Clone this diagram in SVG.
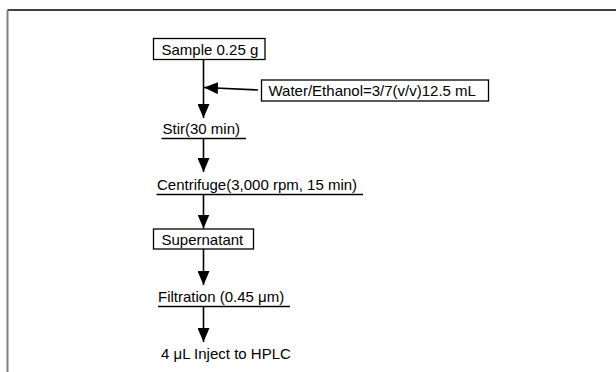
<svg xmlns="http://www.w3.org/2000/svg" width="616" height="372" viewBox="0 0 616 372">
<style>
text{font-family:"Liberation Sans",Arial,sans-serif;font-size:15px;fill:#000}
.box{fill:#fff;stroke:#000;stroke-width:1.3}
.ul{stroke:#000;stroke-width:1.3}
.ar{stroke:#000;stroke-width:1.6;fill:none;marker-end:url(#ah)}
</style>
<defs>
<marker id="ah" markerUnits="userSpaceOnUse" markerWidth="14" markerHeight="12" viewBox="0 0 14 12" refX="14" refY="6" orient="auto">
<path d="M0,0 L14,6 L0,12 Z" fill="#000"/>
</marker>
</defs>
<rect width="616" height="372" fill="#fff"/>
<g id="frame">
<line x1="7.5" y1="10" x2="616" y2="10" stroke="#000" stroke-width="1.5"/>
<line x1="7.5" y1="10" x2="7.5" y2="372" stroke="#808080" stroke-width="2"/>
</g>
<g id="connectors">
<line class="ar" x1="203.5" y1="59.5" x2="203.5" y2="118"/>
<line class="ar" x1="258" y1="90" x2="204" y2="87.5"/>
<line class="ar" x1="203.5" y1="138.5" x2="203.5" y2="172"/>
<line class="ar" x1="203.5" y1="194.5" x2="203.5" y2="228.5"/>
<line class="ar" x1="203.5" y1="249" x2="203.5" y2="285"/>
<line class="ar" x1="203.5" y1="306.5" x2="203.5" y2="342"/>
</g>
<g id="sample">
<rect class="box" x="153.5" y="38.5" width="111.5" height="21"/>
<text x="161.5" y="54.5">Sample 0.25 g</text>
</g>
<g id="solvent">
<rect class="box" x="261.5" y="80" width="227" height="21"/>
<text x="268.5" y="96">Water/Ethanol=3/7(v/v)12.5 mL</text>
</g>
<g id="stir">
<text x="162.5" y="133.5">Stir(30 min)</text>
<line class="ul" x1="161.5" y1="138.5" x2="246" y2="138.5"/>
</g>
<g id="centrifuge">
<text x="157" y="189.5">Centrifuge(3,000 rpm, 15 min)</text>
<line class="ul" x1="156.5" y1="194.5" x2="363" y2="194.5"/>
</g>
<g id="supernatant">
<rect class="box" x="153.5" y="229" width="100" height="20"/>
<text x="161.5" y="244.5">Supernatant</text>
</g>
<g id="filtration">
<text x="158" y="301.5">Filtration (0.45 μm)</text>
<line class="ul" x1="158" y1="306.5" x2="290" y2="306.5"/>
</g>
<g id="inject">
<text x="161" y="359">4 μL Inject to HPLC</text>
</g>
</svg>
